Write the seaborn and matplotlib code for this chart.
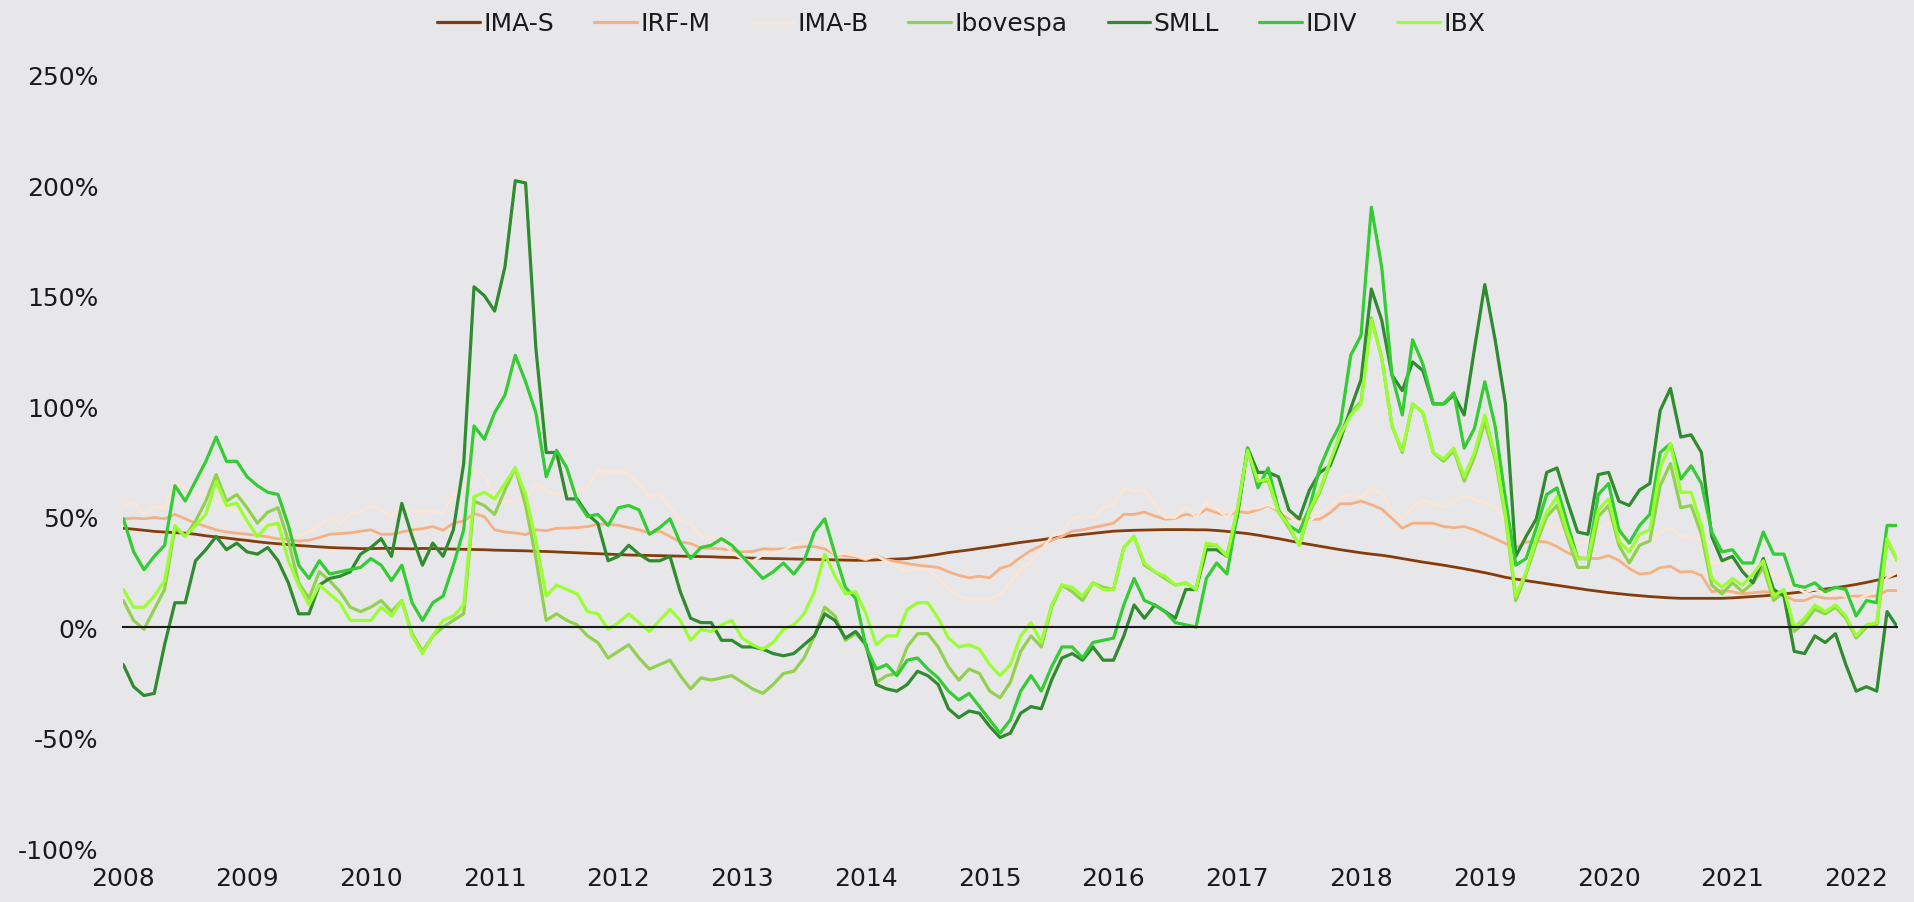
import numpy as np
import pandas as pd
import matplotlib
matplotlib.use('Agg')
import matplotlib.pyplot as plt
import seaborn as sns

# monthly cumulative returns (%), Jan 2008 .. May 2022, one row per year
series_names = ['IMA-S', 'IRF-M', 'IMA-B', 'Ibovespa', 'SMLL', 'IDIV', 'IBX']
colors = ['#843C0C', '#F4B183', '#FBE5D6', '#92D050', '#2E8B2E', '#33CC33', '#99FF33']
years = list(range(2008, 2023))

ima_s = [
    44.7, 44.3, 43.8, 43.3, 43.0, 42.7, 42.5, 42.0, 41.3, 40.8, 40.3, 39.7,
    39.2, 38.6, 38.1, 37.7, 37.3, 36.9, 36.6, 36.3, 36.0, 35.8, 35.7, 35.5,
    35.5, 35.6, 35.6, 35.5, 35.4, 35.6, 35.5, 35.4, 35.3, 35.2, 35.1, 35.0,
    34.8, 34.7, 34.6, 34.5, 34.3, 34.2, 34.0, 33.8, 33.6, 33.4, 33.2, 33.0,
    32.8, 32.6, 32.5, 32.4, 32.3, 32.2, 32.1, 32.0, 31.9, 31.8, 31.6, 31.5,
    31.3, 31.2, 31.1, 31.0, 30.9, 30.8, 30.7, 30.6, 30.5, 30.4, 30.3, 30.2,
    30.2, 30.4, 30.6, 30.8, 31.0, 31.6, 32.2, 32.9, 33.7, 34.3, 34.9, 35.6,
    36.2, 36.9, 37.6, 38.3, 38.9, 39.5, 40.2, 40.8, 41.4, 41.9, 42.4, 42.9,
    43.4, 43.6, 43.8, 43.9, 44.0, 44.1, 44.1, 44.1, 44.0, 44.0, 43.7, 43.3,
    42.8, 42.3, 41.6, 40.8, 40.0, 39.1, 38.2, 37.4, 36.6, 35.8, 35.0, 34.3,
    33.6, 33.0, 32.5, 31.8, 31.0, 30.2, 29.4, 28.7, 28.0, 27.2, 26.4, 25.5,
    24.6, 23.6, 22.5, 21.7, 21.0, 20.3, 19.6, 18.9, 18.2, 17.5, 16.8, 16.2,
    15.6, 15.1, 14.6, 14.2, 13.8, 13.5, 13.2, 13.0, 13.0, 13.0, 13.0, 13.0,
    13.2, 13.5, 13.8, 14.1, 14.5, 15.0, 15.5, 16.0, 16.6, 17.2, 17.8, 18.5,
    19.3, 20.2, 21.2, 22.3, 23.5,
]

irf_m = [
    49, 49.3, 49, 49.6, 49, 51, 49, 47, 45.5, 44, 43, 42.5,
    42, 41.5, 40.8, 40, 39.5, 38.9, 39.3, 40.5, 42, 42.3, 42.6, 43.4,
    44, 42, 42, 43, 44, 44.5, 45.5, 43.8, 47, 48, 51.3, 50,
    44, 43, 42.6, 41.8, 44, 43.6, 44.7, 44.8, 45, 45.5, 46.5, 46.5,
    46, 45, 44, 42.6, 43.4, 41, 38.5, 37.8, 35.8, 35.6, 35.4, 34.7,
    34, 34.2, 35.4, 35.2, 35.4, 35.8, 36.4, 36.4, 35.4, 32.7, 32.3, 31.6,
    30.5, 32.3, 30.5, 29.6, 28.8, 28, 27.5, 27, 25, 23.4, 22.3, 23,
    22.3, 26.5, 28, 31.6, 34.7, 36.8, 39.3, 41, 43.4, 44, 45, 46,
    47, 51, 51, 52, 50.3, 48.8, 49.2, 51, 50.3, 53.4, 51.7, 50.3,
    52.3, 51.7, 53, 55, 52.3, 49.2, 48.8, 48.8, 48.8, 51.7, 55.8, 55.8,
    57, 55.4, 53.4, 49.2, 44.7, 47, 47, 47, 45.5, 45, 45.5, 44,
    42, 40, 37.8, 35.8, 38.5, 38.9, 38.5, 36.4, 33.7, 31.6, 31, 31,
    32.3, 30.2, 26.5, 24, 24.4, 26.9, 27.5, 24.8, 25.2, 23.4, 16, 16.5,
    16, 15, 15.5, 16, 15.7, 14.5, 12, 12, 14, 13, 13, 13.7,
    14, 14, 14, 16.5, 16.5,
]

ima_b = [
    54.8, 56.5, 51, 54.4, 53.8, 65.4, 62.7, 60, 59.6, 57.5, 54.4, 52.3,
    51, 48, 46, 45, 43, 41, 43, 46, 49.6, 47, 51, 52.3,
    55, 53, 49.8, 54.8, 52.3, 52.3, 52.3, 51.7, 59.6, 63.7, 71.6, 68.9,
    59, 56.5, 57.5, 57.5, 65.4, 61.6, 60, 60.6, 61.6, 63.3, 71, 70,
    70.5, 68.9, 64.7, 59, 60.6, 54.4, 48, 47, 41, 40.5, 39.3, 33.7,
    31, 29.6, 32.7, 33.7, 34.7, 37.4, 38.5, 39.3, 37.8, 32.7, 33.3, 32.3,
    31, 32.3, 29.6, 27.5, 25.4, 26.5, 26, 22, 17.2, 14, 12.4, 12.8,
    12.4, 15, 19.9, 26.5, 29.6, 34.7, 41, 43, 49.2, 50.3, 49.6, 53.8,
    55.4, 62.7, 61.6, 62, 55.4, 49.6, 49.6, 54.4, 49.6, 56.5, 53.4, 49.6,
    54.4, 53.8, 53.8, 55.4, 53, 50.3, 47, 48, 51.7, 54.4, 58.5, 59.6,
    58.5, 62.7, 60.6, 52.3, 49.2, 54.4, 57.5, 55.8, 54.4, 56.5, 59.6, 57.9,
    56.5, 54.4, 48, 40, 41, 45.5, 46, 45.5, 41, 37.8, 38.9, 44,
    47.6, 42, 34.7, 36.8, 38.9, 43, 45, 41.4, 40.5, 40, 28.5, 29.6,
    30.6, 26.5, 24, 26.9, 23.4, 22, 18.2, 15.7, 17.2, 15, 15, 14,
    12, 14.5, 16, 22.3, 24.8,
]

ibovespa = [
    12, 3, -1, 8, 17, 45, 41, 48, 57, 69, 57, 60,
    54, 47, 52, 54, 39, 20, 13, 25, 21, 16, 9, 7,
    9, 12, 7, 12, -3, -11, -4, 0, 3, 6, 57, 55,
    51, 62, 72, 55, 31, 3, 6, 3, 1, -4, -7, -14,
    -11, -8, -14, -19, -17, -15, -22, -28, -23, -24, -23, -22,
    -25, -28, -30, -26, -21, -20, -14, -4, 9, 5, -6, -3,
    -8, -25, -22, -21, -9, -3, -3, -9, -18, -24, -19, -21,
    -29, -32, -25, -11, -4, -9, 9, 19, 16, 12, 20, 18,
    17, 36, 41, 28, 25, 22, 19, 20, 17, 37, 37, 32,
    53, 81, 66, 66, 52, 45, 37, 52, 61, 74, 88, 97,
    102, 140, 122, 91, 79, 101, 97, 79, 75, 80, 66, 77,
    93, 76, 50, 12, 24, 38, 50, 55, 41, 27, 27, 50,
    55, 37, 29, 37, 39, 64, 74, 54, 55, 42, 19, 15,
    20, 16, 20, 27, 12, 16, -2, 2, 8, 6, 9, 4,
    -5, 0, 1, 39, 30,
]

smll = [
    -17, -27, -31, -30, -8, 11, 11, 30, 35, 41, 35, 38,
    34, 33, 36, 30, 20, 6, 6, 19, 22, 23, 25, 33,
    36, 40, 32, 56, 41, 28, 38, 32, 44, 74, 154, 150,
    143, 163, 202, 201, 126, 79, 79, 58, 58, 51, 47, 30,
    32, 37, 33, 30, 30, 32, 16, 4, 2, 2, -6, -6,
    -9, -9, -10, -12, -13, -12, -8, -4, 6, 3, -5, -2,
    -8, -26, -28, -29, -26, -20, -22, -26, -37, -41, -38, -39,
    -45, -50, -48, -39, -36, -37, -24, -14, -12, -15, -9, -15,
    -15, -4, 10, 4, 10, 7, 4, 17, 17, 35, 35, 32,
    50, 81, 70, 70, 68, 53, 49, 62, 70, 73, 85, 99,
    112, 153, 139, 114, 107, 120, 116, 101, 101, 105, 96, 126,
    155, 130, 101, 32, 41, 49, 70, 72, 57, 43, 42, 69,
    70, 57, 55, 62, 65, 98, 108, 86, 87, 79, 41, 30,
    32, 25, 20, 31, 17, 14, -11, -12, -4, -7, -3, -17,
    -29, -27, -29, 7, 0,
]

idiv = [
    49, 34, 26, 32, 37, 64, 57, 66, 75, 86, 75, 75,
    68, 64, 61, 60, 46, 28, 22, 30, 24, 25, 26, 27,
    31, 28, 21, 28, 11, 3, 11, 14, 28, 44, 91, 85,
    97, 105, 123, 111, 97, 68, 80, 72, 57, 50, 51, 46,
    54, 55, 53, 42, 45, 49, 38, 31, 36, 37, 40, 37,
    32, 27, 22, 25, 29, 24, 30, 43, 49, 33, 18, 13,
    -9, -19, -17, -22, -15, -14, -19, -23, -29, -33, -30, -36,
    -42, -48, -42, -29, -22, -29, -18, -9, -9, -14, -7, -6,
    -5, 10, 22, 12, 10, 7, 2, 1, 0, 22, 29, 24,
    51, 81, 63, 72, 53, 46, 43, 54, 72, 83, 92, 123,
    132, 190, 163, 114, 96, 130, 119, 101, 101, 106, 81, 90,
    111, 91, 58, 28, 31, 45, 60, 63, 47, 31, 31, 60,
    65, 44, 38, 46, 51, 79, 83, 67, 73, 65, 43, 34,
    35, 29, 29, 43, 33, 33, 19, 18, 20, 16, 18, 17,
    5, 12, 11, 46, 46,
]

ibx = [
    17, 9, 9, 14, 21, 46, 41, 46, 51, 66, 55, 56,
    48, 41, 46, 47, 30, 19, 10, 19, 15, 11, 3, 3,
    3, 9, 5, 12, -4, -12, -4, 3, 5, 10, 59, 61,
    58, 65, 72, 60, 39, 14, 19, 17, 15, 7, 6, -1,
    2, 6, 2, -2, 3, 8, 3, -6, -1, -2, 1, 3,
    -5, -8, -10, -7, -1, 1, 6, 16, 33, 23, 15, 16,
    6, -8, -4, -4, 8, 11, 11, 4, -5, -9, -8, -10,
    -17, -22, -17, -4, 2, -7, 10, 19, 18, 14, 20, 17,
    17, 36, 41, 29, 25, 23, 19, 20, 17, 38, 37, 32,
    53, 80, 66, 67, 52, 46, 37, 53, 62, 75, 87, 96,
    101, 139, 122, 91, 80, 101, 97, 79, 76, 81, 68, 79,
    96, 78, 51, 14, 25, 40, 52, 59, 43, 31, 31, 53,
    58, 39, 34, 42, 44, 72, 83, 61, 61, 46, 22, 18,
    22, 19, 24, 30, 14, 17, 0, 4, 10, 7, 10, 5,
    -4, 1, 2, 40, 30,
]

all_values = [ima_s, irf_m, ima_b, ibovespa, smll, idiv, ibx]
n = len(ima_s)
t = 2008 + np.arange(n) / 12

df = pd.DataFrame({
    't': np.tile(t, len(series_names)),
    'value': np.concatenate(all_values),
    'serie': np.repeat(series_names, n),
})

bg = '#E7E7E9'
sns.set_style('white', {'axes.facecolor': bg, 'figure.facecolor': bg})
plt.rcParams['font.family'] = ['DejaVu Sans']
plt.rcParams['text.color'] = '#1a1a1a'

fig = plt.figure(figsize=(19.15, 9.03), dpi=100)
ax = fig.add_axes([0.0644, 0.0598, 0.9264, 0.8564])

sns.lineplot(data=df, x='t', y='value', hue='serie', hue_order=series_names,
             palette=colors, linewidth=2.3, ax=ax)
for line in ax.lines[:3]:
    line.set_linewidth(2.0)

ax.set_xlim(t[0], t[-1])
ax.set_ylim(-100, 250)
ax.set_xlabel('')
ax.set_ylabel('')

# y axis: percent labels only
ax.set_yticks(range(-100, 251, 50))
ax.set_yticklabels([f'{v}%' for v in range(-100, 251, 50)])
ax.tick_params(axis='y', length=0, pad=18, labelsize=18, labelcolor='#1a1a1a')

# x axis line sits on 0%, labels at the bottom
for s in ['left', 'top', 'right']:
    ax.spines[s].set_visible(False)
ax.spines['bottom'].set_position(('data', 0))
ax.spines['bottom'].set_color('#1a1a1a')
ax.spines['bottom'].set_linewidth(1.5)
ax.set_xticks(years)
ax.tick_params(axis='x', direction='out', length=6, width=1.5, color='#1a1a1a',
               labelbottom=False)

sec = ax.secondary_xaxis('bottom')
sec.set_xticks(years)
sec.set_xticklabels([str(y) for y in years])
sec.tick_params(length=0, labelsize=18, pad=13, labelcolor='#1a1a1a')
sec.spines['bottom'].set_visible(False)

sns.move_legend(ax, 'center', bbox_to_anchor=(0.502, 0.973), bbox_transform=fig.transFigure,
                ncol=7, frameon=False, title=None, fontsize=18,
                handlelength=1.7, columnspacing=1.6, handletextpad=0.15)

fig.savefig('out.png', dpi=100, facecolor=bg)
